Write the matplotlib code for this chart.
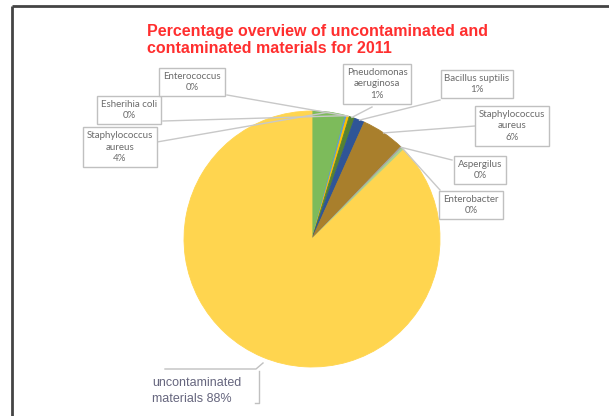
import numpy as np
import matplotlib
matplotlib.use("Agg")
import matplotlib.pyplot as plt

# pie data, clockwise from 12 o'clock
names = ["Staphylococcus\naureus", "Esherihia coli", "Enterococcus",
         "Pneudomonas\naeruginosa", "Bacillus suptilis", "Staphylococcus\naureus",
         "Aspergilus", "Enterobacter", "uncontaminated\nmaterials"]
values = [4.2, 0.2, 0.3, 0.7, 1.3, 5.5, 0.2, 0.3, 87.3]
pct_text = ["4%", "0%", "0%", "1%", "1%", "6%", "0%", "0%", "88%"]
colors = ["#7dbb5b", "#5b9bd5", "#ffc000", "#548235", "#2f5597",
          "#a97f2c", "#a5a5a5", "#a9d18e", "#ffd54f"]

# label box centres and leader anchors, in pixels (origin top-left)
box_xy = [(120, 147), (129, 110), (192, 82), (377, 84), (477, 84),
          (512, 126), (480, 170), (471, 205)]
anchor = [(157, 142), (163, 121), (227, 95), (372, 107), (440, 100),
          (475, 126), (452, 160), (440, 190)]

W, H = 609, 416
fig = plt.figure(figsize=(W / 100, H / 100), dpi=100)
ax = fig.add_axes([0, 0, 1, 1])

cx, cy, r = 312, H - 239, 128
wedges, _ = ax.pie(values, colors=colors, startangle=90, counterclock=False,
                   center=(cx, cy), radius=r, frame=True,
                   wedgeprops=dict(linewidth=0.6))
for w, c in zip(wedges, colors):
    w.set_edgecolor(c)
ax.set_xlim(0, W)
ax.set_ylim(0, H)
ax.set_aspect("equal")
ax.set_axis_off()

for i, w in enumerate(wedges[:-1]):
    mid = np.deg2rad((w.theta1 + w.theta2) / 2)
    ex, ey = cx + r * np.cos(mid), cy + r * np.sin(mid)
    bx, by = box_xy[i]
    axx, axy = anchor[i]
    ax.plot([axx, ex], [H - axy, ey], color="#c8c8c8", lw=1, zorder=1)
    ax.text(bx, H - by, names[i] + "\n" + pct_text[i], ha="center", va="center",
            fontsize=7, family="Lato", color="#6b6b6b", linespacing=1.35, zorder=3,
            bbox=dict(boxstyle="square,pad=0.4", fc="white", ec="#c0c0c0", lw=1))

# big slice label, partly boxed as in the original
ax.text(152, H - 391, "uncontaminated\nmaterials " + pct_text[-1],
        ha="left", va="center", fontsize=9, family="Liberation Sans",
        color="#66667e", linespacing=1.5, zorder=3)
ax.plot([165, 256, 263], [H - 369, H - 369, H - 363], color="#c0c0c0", lw=1)
ax.plot([259, 259, 255], [H - 371, H - 403, H - 403], color="#c0c0c0", lw=1)

ax.text(147, H - 40, "Percentage overview of uncontaminated and\ncontaminated materials for 2011",
        ha="left", va="center", fontsize=11.5, fontweight="bold",
        family="Liberation Sans", color="#ff2f2f", linespacing=1.1)

# frame lines along top and left
ax.plot([12, W], [H - 6, H - 6], color="#444444", lw=2, solid_capstyle="butt")
ax.plot([12, 12], [H - 6, 0], color="#444444", lw=2, solid_capstyle="butt")

fig.savefig("out.png", dpi=100, facecolor="white")
